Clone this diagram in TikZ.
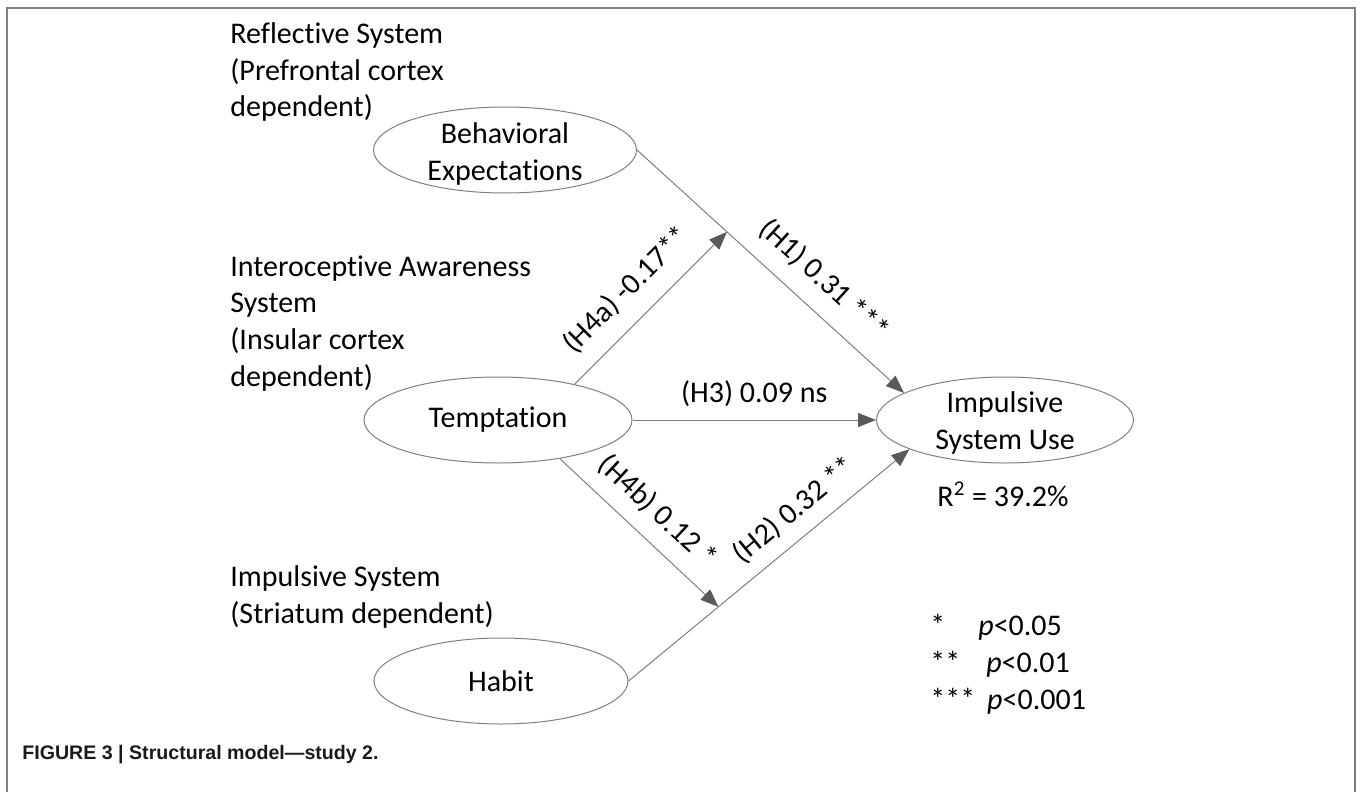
\documentclass[tikz,border=0pt]{standalone}
\usepackage{fontspec}
\setmainfont{Carlito}[Ligatures=CommonOff]
\newfontfamily\capfont{Liberation Sans}
\usetikzlibrary{shapes.geometric,arrows.meta,calc}
\definecolor{framegray}{HTML}{808080}
\definecolor{linegray}{HTML}{7F7F7F}
\definecolor{tipgray}{HTML}{595959}
\begin{document}
\begin{tikzpicture}[x=0.5pt, y=-0.5pt,
    every node/.style={font=\fontsize{15}{18.3}\selectfont},
    var/.style={ellipse, draw=linegray, line width=.5pt, minimum width=#1,
      minimum height=43pt, inner sep=0pt},
    side/.style={anchor=base west, align=left, inner sep=0pt},
    lab/.style={sloped}]
  \useasboundingbox (0,0) rectangle (1360,792);
  \draw[framegray, line width=1.25pt] (7,792) -- (7,8) -- (1355,8) -- (1355,792);
  % side texts: base is the last line
  \node[side] (refl) at (230,117) {Reflective System\\(Prefrontal cortex\\dependent)};
  \node[side] (intero) at (230,386) {Interoceptive Awareness\\System\\(Insular cortex\\dependent)};
  \node[side] (imps) at (230,623) {Impulsive System\\(Striatum dependent)};
  \node[var=131.5pt, label={[align=center, yshift=-2pt]center:{Behavioral\\Expectations}}] (be) at (505,150) {};
  \node[var=134pt, label={center:Temptation}] (tem) at (498,420) {};
  \node[var=127pt, label={center:Habit}] (hab) at (501,681) {};
  \node[var=128.5pt, label={[align=center, yshift=-1.5pt]center:{Impulsive\\System Use}}] (isu) at (1005,420) {};
  \node[anchor=base] (r2) at (1003,506) {R\textsuperscript{2} = 39.2\%};
  \node[side] (sig) at (930,709) {*\hspace{16.5pt}\textit{p}<0.05\\**\hspace{13pt}\textit{p}<0.01\\***\hspace{6pt}\textit{p}<0.001};
  \node[anchor=base west, inner sep=0pt, text=black!90,
    font=\capfont\bfseries\fontsize{9.8}{11}\selectfont] (cap) at (22,759)
    {FIGURE 3 | Structural model—study 2.};
  \coordinate (j1) at ($(be.east)!0.337!(isu.165)$);
  \coordinate (j2) at ($(hab.east)!0.32!(isu.197)$);
  \begin{scope}[-{Triangle[length=9pt,width=7pt,color=tipgray]}, draw=linegray, line width=.5pt]
    \draw (be.east) to node[lab, pos=0.626, above=5pt] (h1) {(H1) 0.31 ***} (isu.165);
    \draw (tem.east) to node[lab, above=3pt] (h3) {(H3) 0.09 ns} (isu.west);
    \draw (hab.east) to node[lab, pos=0.65, above=3pt] (h2) {(H2) 0.32 **} (isu.197);
    \draw (tem.25) to node[lab, pos=0.48, above=5pt] (h4a) {(H4a) -0.17**} (j1);
    \draw (tem.328) to node[lab, pos=0.495, above=4pt] (h4b) {(H4b) 0.12 *} (j2);
  \end{scope}
\end{tikzpicture}
\end{document}
